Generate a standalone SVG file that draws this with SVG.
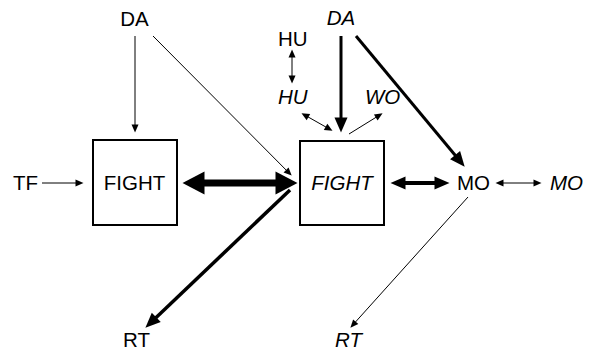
<svg xmlns="http://www.w3.org/2000/svg" width="595" height="351" viewBox="0 0 595 351">
<style>
text{font-family:"Liberation Sans",Arial,sans-serif;font-size:20.5px;fill:#000}
.i{font-style:italic}
.m{text-anchor:middle}
.box{fill:#fff;stroke:#000;stroke-width:2}
line{stroke:#000;fill:none}
.t1{stroke-width:1}
.t3{stroke-width:3}
.t4{stroke-width:4}
.t7{stroke-width:7}
</style>
<defs>
<marker id="hs" markerUnits="userSpaceOnUse" markerWidth="9" markerHeight="8" refX="0.5" refY="3.5" orient="auto-start-reverse" overflow="visible"><path d="M0,0 L8,3.5 L0,7 z" fill="#000"/></marker>
<marker id="hm" markerUnits="userSpaceOnUse" markerWidth="16" markerHeight="14" refX="0.5" refY="6.5" orient="auto-start-reverse" overflow="visible"><path d="M0,0 L15,6.5 L0,13 z" fill="#000"/></marker>
<marker id="hb" markerUnits="userSpaceOnUse" markerWidth="23" markerHeight="24" refX="0.5" refY="11.5" orient="auto-start-reverse" overflow="visible"><path d="M0,0 L22,11.5 L0,23 z" fill="#000"/></marker>
</defs>
<g id="connectors">
<line class="t1" x1="42" y1="183" x2="76" y2="183" marker-end="url(#hs)"/>
<line class="t1" x1="135" y1="36" x2="135" y2="125" marker-end="url(#hs)"/>
<line class="t1" x1="153" y1="36" x2="286.4" y2="170.3" marker-end="url(#hs)"/>
<line class="t7" x1="204" y1="183" x2="276" y2="183" marker-start="url(#hb)" marker-end="url(#hb)"/>
<line style="stroke-width:3.5" x1="290" y1="190" x2="155.9" y2="317.7" marker-end="url(#hm)"/>
<line class="t3" x1="341" y1="36" x2="341" y2="118" marker-end="url(#hm)"/>
<line class="t3" x1="356" y1="36" x2="455.4" y2="155.5" marker-end="url(#hm)"/>
<line class="t1" x1="292" y1="57" x2="292" y2="76" marker-start="url(#hs)" marker-end="url(#hs)"/>
<line class="t1" x1="308" y1="116.9" x2="326" y2="127.1" marker-start="url(#hs)" marker-end="url(#hs)"/>
<line class="t1" x1="349" y1="134" x2="376.2" y2="117.2" marker-end="url(#hs)"/>
<line class="t4" x1="405" y1="183" x2="435" y2="183" marker-start="url(#hm)" marker-end="url(#hm)"/>
<line class="t1" x1="503" y1="183" x2="534" y2="183" marker-start="url(#hs)" marker-end="url(#hs)"/>
<line class="t1" x1="468" y1="197" x2="355.4" y2="322.1" marker-end="url(#hs)"/>
</g>
<g id="fight1"><rect class="box" x="93" y="140" width="84" height="85"/><text class="m" x="134.5" y="190">FIGHT</text></g>
<g id="fight2"><rect class="box" x="300" y="141" width="84" height="84"/><text class="m i" x="342" y="190">FIGHT</text></g>
<g id="da1"><text class="m" x="134.5" y="26">DA</text></g>
<g id="tf"><text x="13" y="190">TF</text></g>
<g id="rt1"><text x="123" y="347">RT</text></g>
<g id="da2"><text class="m i" x="341" y="25">DA</text></g>
<g id="hu1"><text x="278" y="46">HU</text></g>
<g id="hu2"><text class="i" x="278" y="104">HU</text></g>
<g id="wo2"><text class="i" x="365" y="104">WO</text></g>
<g id="mo1"><text x="457" y="190">MO</text></g>
<g id="mo2"><text class="i" x="550" y="190">MO</text></g>
<g id="rt2"><text class="i" x="335" y="347">RT</text></g>
</svg>
